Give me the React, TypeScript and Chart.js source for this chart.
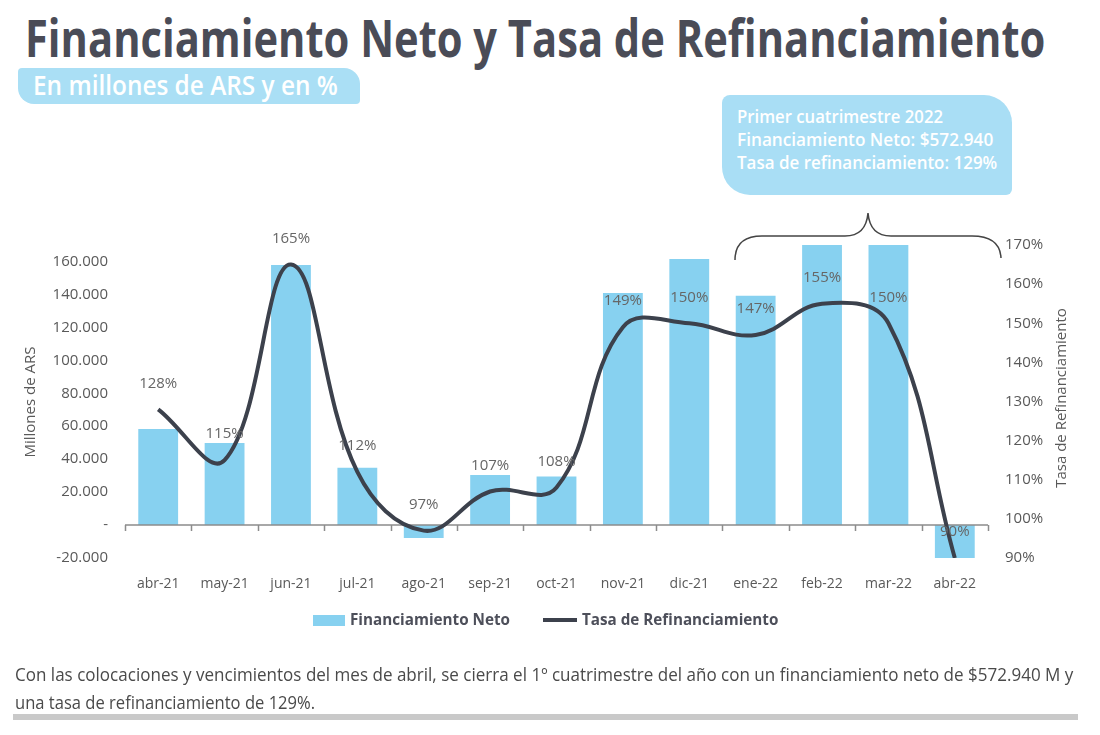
import React, { useEffect, useLayoutEffect, useRef, useState } from "react";
import { Chart, registerables } from "chart.js";

Chart.register(...registerables);

const categories = ["abr-21", "may-21", "jun-21", "jul-21", "ago-21", "sep-21", "oct-21", "nov-21", "dic-21", "ene-22", "feb-22", "mar-22", "abr-22"];
const financiamientoNeto = [58300, 49800, 157900, 34800, -7900, 30400, 29500, 140900, 161500, 139200, 226000, 227000, -20000];
const tasaRefinanciamiento = [128, 115, 165, 112, 97, 107, 108, 149, 150, 147, 155, 150, 90];
const leftAxisTicks = [-20000, 0, 20000, 40000, 60000, 80000, 100000, 120000, 140000, 160000];
const leftAxisMin = -20000;
const leftAxisMax = 170000;
const rightAxisTicks = [90, 100, 110, 120, 130, 140, 150, 160, 170];
const rightAxisMin = 90;
const rightAxisMax = 170;

const titleText = "Financiamiento Neto y Tasa de Refinanciamiento";
const subtitleText = "En millones de ARS y en %";
const calloutLines = ["Primer cuatrimestre 2022", "Financiamiento Neto: $572.940", "Tasa de refinanciamiento: 129%"];
const footerLines = [
  "Con las colocaciones y vencimientos del mes de abril, se cierra el 1º cuatrimestre del año con un financiamiento neto de $572.940 M y",
  "una tasa de refinanciamiento de 129%.",
];
const legendBar = "Financiamiento Neto";
const legendLine = "Tasa de Refinanciamiento";
const leftAxisTitle = "Millones de ARS";
const rightAxisTitle = "Tasa de Refinanciamiento";

const FONT = "'Open Sans', 'Noto Sans', sans-serif";
const BAR_COLOR = "#87d1f0";
const LINE_COLOR = "#3c414c";
const TEXT_GRAY = "#595959";

function fmtThousands(v: number): string {
  const s = Math.abs(v).toString().replace(/\B(?=(\d{3})+(?!\d))/g, ".");
  return (v < 0 ? "-" : "") + s;
}

type FitProps = {
  text: string;
  left: number;
  top: number;
  width: number;
  fontSize: number;
  weight?: number;
  color: string;
};

function FitText({ text, left, top, width, fontSize, weight = 400, color }: FitProps) {
  const ref = useRef<HTMLSpanElement>(null);
  const [scale, setScale] = useState(1);
  useLayoutEffect(() => {
    if (ref.current) {
      const w = ref.current.offsetWidth;
      if (w > 0) setScale(width / w);
    }
  }, [text, width]);
  return (
    <div
      style={{
        position: "absolute",
        left,
        top,
        whiteSpace: "nowrap",
        fontFamily: FONT,
        fontSize,
        fontWeight: weight,
        color,
        lineHeight: `${fontSize}px`,
        transformOrigin: "0 0",
        transform: `scaleX(${scale})`,
      }}
    >
      <span ref={ref}>{text}</span>
    </div>
  );
}

function ChartCanvas() {
  const canvasRef = useRef<HTMLCanvasElement>(null);
  useEffect(() => {
    if (!canvasRef.current) return;
    const overlay = {
      id: "overlay",
      afterDatasetDraw(chart: any, args: any) {
        if (args.index !== 1) return;
        const { ctx, chartArea, scales } = chart;
        const y0 = scales.y.getPixelForValue(0);
        ctx.save();
        ctx.strokeStyle = "#8c8c8c";
        ctx.lineWidth = 1.5;
        ctx.beginPath();
        ctx.moveTo(chartArea.left, y0);
        ctx.lineTo(chartArea.right, y0);
        const n = categories.length;
        const step = (chartArea.right - chartArea.left) / n;
        for (let i = 0; i <= n; i++) {
          const x = Math.round(chartArea.left + i * step) + 0.5;
          ctx.moveTo(x, y0);
          ctx.lineTo(x, y0 + 6);
        }
        ctx.stroke();
        ctx.restore();
      },
      afterDatasetsDraw(chart: any) {
        const { ctx } = chart;
        const meta = chart.getDatasetMeta(0);
        ctx.save();
        ctx.font = `15px ${FONT}`;
        ctx.fillStyle = "#666666";
        ctx.textAlign = "center";
        ctx.textBaseline = "middle";
        meta.data.forEach((pt: any, i: number) => {
          ctx.fillText(`${tasaRefinanciamiento[i]}%`, pt.x, pt.y - 26);
        });
        ctx.restore();
      },
      afterDraw(chart: any) {
        const { ctx } = chart;
        ctx.save();
        ctx.font = `15px ${FONT}`;
        ctx.fillStyle = TEXT_GRAY;
        ctx.textAlign = "center";
        ctx.textBaseline = "middle";
        ctx.translate(31, 202);
        ctx.rotate(-Math.PI / 2);
        ctx.fillText(leftAxisTitle, 0, 0);
        ctx.restore();
        ctx.save();
        ctx.font = `15px ${FONT}`;
        ctx.fillStyle = TEXT_GRAY;
        ctx.textAlign = "center";
        ctx.textBaseline = "middle";
        ctx.translate(1062, 198);
        ctx.rotate(-Math.PI / 2);
        ctx.fillText(rightAxisTitle, 0, 0);
        ctx.restore();
      },
    };

    const chart = new Chart(canvasRef.current, {
      data: {
        labels: categories,
        datasets: [
          {
            type: "line",
            label: legendLine,
            data: tasaRefinanciamiento,
            yAxisID: "y1",
            borderColor: LINE_COLOR,
            borderWidth: 4,
            pointRadius: 0,
            tension: 0.4,
            fill: false,
            order: 0,
          } as any,
          {
            type: "bar",
            label: legendBar,
            data: financiamientoNeto,
            yAxisID: "y",
            backgroundColor: BAR_COLOR,
            barPercentage: 0.6,
            categoryPercentage: 1,
            order: 1,
          } as any,
        ],
      },
      options: {
        animation: false,
        responsive: false,
        devicePixelRatio: 1,
        layout: { padding: { top: 45, bottom: 42, left: 0, right: 0 } },
        plugins: { legend: { display: false }, tooltip: { enabled: false }, title: { display: false } },
        scales: {
          x: {
            grid: { display: false, drawTicks: false },
            border: { display: false },
            ticks: { font: { family: FONT, size: 14 }, color: TEXT_GRAY, padding: 18, maxRotation: 0, autoSkip: false },
            afterFit: (s: any) => {
              s.height = 40;
            },
          },
          y: {
            position: "left",
            min: leftAxisMin,
            max: leftAxisMax,
            grid: { display: false, drawTicks: false },
            border: { display: false },
            afterBuildTicks: (s: any) => {
              s.ticks = leftAxisTicks.map((v) => ({ value: v }));
            },
            ticks: {
              font: { family: FONT, size: 15 },
              color: TEXT_GRAY,
              padding: 17,
              autoSkip: false,
              callback: (v: any) => {
                const n = Number(v);
                if (n === 0) return "-";
                return fmtThousands(n);
              },
            },
            afterFit: (s: any) => {
              s.width = 125;
            },
          },
          y1: {
            position: "right",
            min: rightAxisMin,
            max: rightAxisMax,
            grid: { display: false, drawTicks: false },
            border: { display: false },
            afterBuildTicks: (s: any) => {
              s.ticks = rightAxisTicks.map((v) => ({ value: v }));
            },
            ticks: {
              font: { family: FONT, size: 15 },
              color: TEXT_GRAY,
              padding: 17,
              autoSkip: false,
              callback: (v: any) => `${v}%`,
            },
            afterFit: (s: any) => {
              s.width = 112;
            },
          },
        },
      } as any,
      plugins: [overlay],
    });
    return () => chart.destroy();
  }, []);
  return <canvas ref={canvasRef} width={1100} height={440} style={{ position: "absolute", left: 0, top: 200, width: 1100, height: 440 }} />;
}

export default function App() {
  return (
    <div style={{ position: "absolute", left: 0, top: 0, width: 1100, height: 735, background: "#ffffff", overflow: "hidden", fontFamily: FONT }}>
      <FitText text={titleText} left={25} top={11} width={1020} fontSize={52} weight={700} color="#4a4c57" />
      <div style={{ position: "absolute", left: 18, top: 68, width: 342, height: 36, background: "#aadff5", borderRadius: "4px 16px 4px 16px" }} />
      <FitText text={subtitleText} left={33} top={71} width={305} fontSize={27} weight={600} color="#ffffff" />
      <div style={{ position: "absolute", left: 722, top: 95, width: 290, height: 100, background: "#a9def5", borderRadius: "8px 28px 6px 28px" }} />
      <FitText text={calloutLines[0]} left={737} top={107} width={206} fontSize={18} weight={600} color="#ffffff" />
      <FitText text={calloutLines[1]} left={737} top={130} width={256} fontSize={18} weight={600} color="#ffffff" />
      <FitText text={calloutLines[2]} left={737} top={153} width={260} fontSize={18} weight={600} color="#ffffff" />
      <ChartCanvas />
      <svg width={1100} height={735} style={{ position: "absolute", left: 0, top: 0, pointerEvents: "none" }}>
        <path
          d="M 735 260 Q 735 236 762 236 L 845 236 Q 866 236 868 213 Q 870 236 891 236 L 972 236 Q 1000 236 1001 258"
          fill="none"
          stroke="#444444"
          strokeWidth={1.5}
        />
      </svg>
      <div style={{ position: "absolute", left: 313, top: 615, width: 32, height: 11, background: BAR_COLOR }} />
      <FitText text={legendBar} left={350} top={611} width={160} fontSize={16} weight={700} color="#4d4f5a" />
      <div style={{ position: "absolute", left: 543, top: 618, width: 34, height: 4, background: LINE_COLOR }} />
      <FitText text={legendLine} left={582} top={611} width={196} fontSize={16} weight={700} color="#4d4f5a" />
      <FitText text={footerLines[0]} left={15} top={665} width={1058} fontSize={18} weight={400} color="#4a4a4a" />
      <FitText text={footerLines[1]} left={15} top={693} width={300} fontSize={18} weight={400} color="#4a4a4a" />
      <div style={{ position: "absolute", left: 13, top: 714, width: 1065, height: 6, background: "#c9c9c9" }} />
    </div>
  );
}
